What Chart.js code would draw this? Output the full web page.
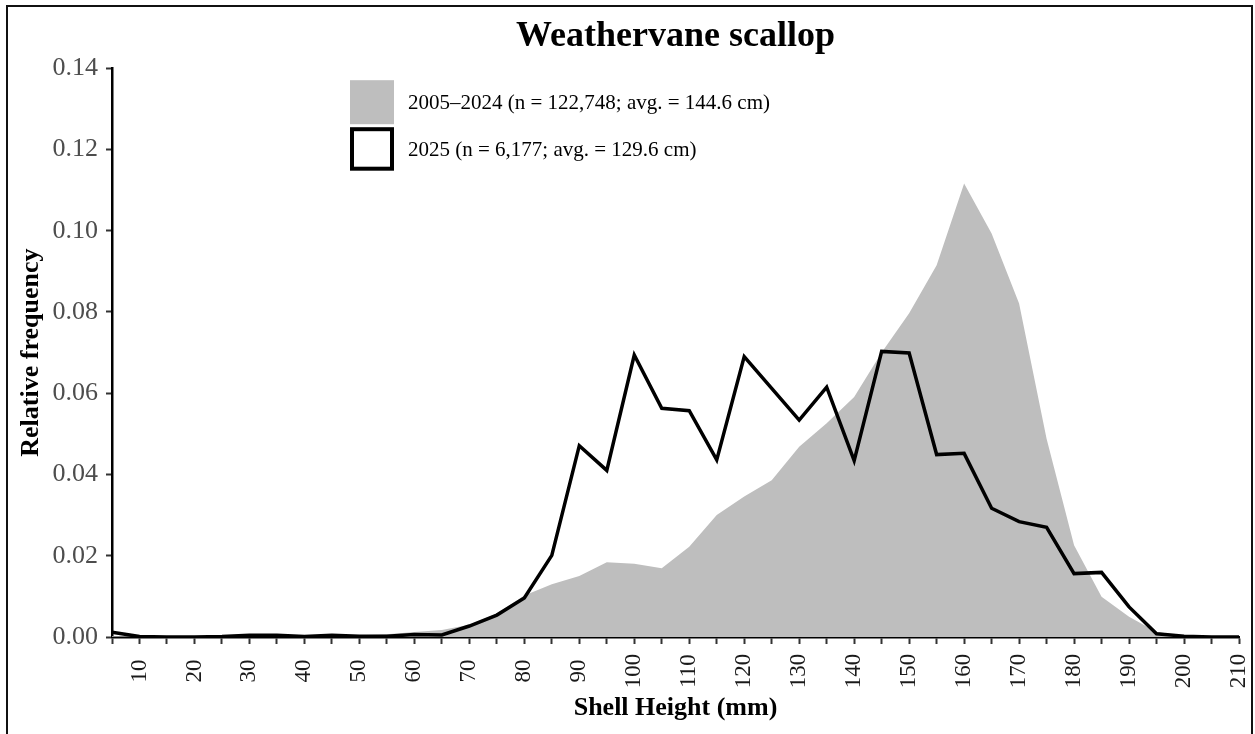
<!DOCTYPE html>
<html>
<head>
<meta charset="utf-8">
<title>Weathervane scallop</title>
<script src="https://cdn.jsdelivr.net/npm/chart.js@4/dist/chart.umd.min.js"></script>
<style>
  html, body { margin: 0; padding: 0; background: #fff; }
  #wrap { position: relative; width: 1255px; height: 734px; overflow: hidden; }
  #frame { position: absolute; left: 6px; top: 5px; width: 1243px; height: 780px; border: 2px solid #111; pointer-events: none; }
  canvas { position: absolute; left: 0; top: 0; }
</style>
</head>
<body>
<div id="wrap">
  <canvas id="chart" width="1255" height="734"></canvas>
  <div id="frame"></div>
</div>
<script>
document.addEventListener( "DOMContentLoaded", () => {

   // Data
   // ----------------------------------------------
   const shellHeights = [ 5, 10, 15, 20, 25, 30, 35, 40, 45, 50, 55, 60, 65, 70, 75, 80, 85, 90, 95, 100,
                          105, 110, 115, 120, 125, 130, 135, 140, 145, 150, 155, 160, 165, 170, 175, 180,
                          185, 190, 195, 200, 205, 210 ];

   // 2005–2024 relative frequency
   const freqHistoric = [ 0.0002, 0.0001, 0.0001, 0.0001, 0.0001, 0.0002, 0.0002, 0.0002, 0.0003, 0.0004,
                          0.0007, 0.0012, 0.0017, 0.0030, 0.0058, 0.0102, 0.0130, 0.0150, 0.0184, 0.0180,
                          0.0169, 0.0222, 0.0300, 0.0346, 0.0386, 0.0468, 0.0526, 0.0591, 0.0700, 0.0797,
                          0.0915, 0.1116, 0.0993, 0.0821, 0.0488, 0.0226, 0.0099, 0.0050, 0.0012, 0.0003,
                          0.0001, 0.0000 ];

   // 2025 relative frequency
   const freq2025 = [ 0.0012, 0.0001, 0.0000, 0.0000, 0.0001, 0.0004, 0.0004, 0.0001, 0.0004, 0.0002,
                      0.0002, 0.0006, 0.0005, 0.0027, 0.0054, 0.0096, 0.0201, 0.0471, 0.0410, 0.0694,
                      0.0563, 0.0557, 0.0436, 0.0690, 0.0612, 0.0534, 0.0615, 0.0434, 0.0703, 0.0699,
                      0.0449, 0.0452, 0.0317, 0.0284, 0.0270, 0.0156, 0.0159, 0.0074, 0.0008, 0.0002,
                      0.0000, 0.0000 ];

   const xTickLabels = [ 10, 20, 30, 40, 50, 60, 70, 80, 90, 100, 110, 120, 130, 140, 150, 160, 170, 180, 190, 200, 210 ];
   const yTicks      = [ 0, 0.02, 0.04, 0.06, 0.08, 0.10, 0.12, 0.14 ];

   const legendItems = [
      { text: '2005–2024 (n = 122,748; avg. = 144.6 cm)', kind: 'fill' },
      { text: '2025 (n = 6,177; avg. = 129.6 cm)', kind: 'line' }
   ];

   const serif     = "'Liberation Serif', 'Times New Roman', serif";
   const grayFill  = '#bebebe';


   // Rotated x labels (centred on tick) + legend inside the panel
   // ----------------------------------------------
   const overlay = {
      id: 'overlay',
      afterDraw( chart ) {
         const { ctx, chartArea, scales: { x } } = chart;
         ctx.save();

         ctx.font = `23px ${serif}`;
         ctx.fillStyle = '#1a1a1a';
         ctx.textAlign = 'center';
         ctx.textBaseline = 'middle';
         x.ticks.forEach( t => {
            if ( !xTickLabels.includes( t.value ) ) return;
            ctx.save();
            ctx.translate( x.getPixelForValue( t.value ), chartArea.bottom + 34 );
            ctx.rotate( -Math.PI / 2 );
            ctx.fillText( String( t.value ), 0, 0 );
            ctx.restore();
         });

         const lx = chartArea.left + 238;
         const ly = chartArea.top + 12;
         ctx.font = `21px ${serif}`;
         ctx.textAlign = 'left';
         ctx.textBaseline = 'alphabetic';
         legendItems.forEach( ( item, i ) => {
            const top = ly + i * 47;
            if ( item.kind === 'fill' ) {
               ctx.fillStyle = grayFill;
               ctx.fillRect( lx, top, 44, 44 );
            } else {
               ctx.strokeStyle = '#000';
               ctx.lineWidth = 4;
               ctx.strokeRect( lx + 2, top + 2, 40, 39.5 );
            }
            ctx.fillStyle = '#000';
            ctx.fillText( item.text, lx + 58, top + 29 );
         });

         ctx.restore();
      }
   };


   // Chart
   // ----------------------------------------------
   new Chart( document.getElementById('chart'), {
      type: 'line',
      data: {
         datasets: [
            {
               label: '2025',
               data: shellHeights.map( ( h, i ) => ({ x: h, y: freq2025[i] }) ),
               borderColor: '#000',
               borderWidth: 3.5,
               pointRadius: 0,
               fill: false,
               tension: 0,
               order: 1
            },
            {
               label: '2005–2024',
               data: shellHeights.map( ( h, i ) => ({ x: h, y: freqHistoric[i] }) ),
               borderColor: grayFill,
               backgroundColor: grayFill,
               borderWidth: 0,
               pointRadius: 0,
               fill: 'origin',
               tension: 0,
               order: 2
            }
         ]
      },
      plugins: [ overlay ],
      options: {
         responsive: false,
         animation: false,
         layout: { padding: { left: 0, right: 16, top: 0, bottom: 0 } },
         plugins: {
            legend: { display: false },
            tooltip: { enabled: false },
            title: {
               display: true,
               text: 'Weathervane scallop',
               fullSize: false,
               color: '#000',
               font: { family: serif, size: 36, weight: 'bold' },
               padding: { top: 15, bottom: 10 }
            }
         },
         scales: {
            x: {
               type: 'linear',
               min: 5,
               max: 210,
               afterFit: s => { s.height = 97; },
               afterBuildTicks: s => { s.ticks = shellHeights.map( v => ({ value: v }) ); },
               border: { color: '#000', width: 2.5 },
               grid: { drawOnChartArea: false, tickLength: 7, tickWidth: 2, tickColor: '#333' },
               // labels are drawn by the overlay plugin, centred on each tick
               ticks: { display: false },
               title: {
                  display: true,
                  text: 'Shell Height (mm)',
                  color: '#000',
                  font: { family: serif, size: 26, weight: 'bold' },
                  padding: { top: 0, bottom: 10 }
               }
            },
            y: {
               min: 0,
               max: 0.14,
               afterFit: s => { s.width = 112; },
               afterBuildTicks: s => { s.ticks = yTicks.map( v => ({ value: v }) ); },
               border: { color: '#000', width: 2.5 },
               grid: { drawOnChartArea: false, tickLength: 6, tickWidth: 2, tickColor: '#333' },
               ticks: {
                  color: '#4d4d4d',
                  padding: 8,
                  font: { family: serif, size: 26 },
                  callback: v => v.toFixed( 2 )
               },
               title: {
                  display: true,
                  text: 'Relative frequency',
                  color: '#000',
                  font: { family: serif, size: 26, weight: 'bold' },
                  padding: { top: 16, bottom: 0 }
               }
            }
         }
      }
   });
});
</script>
</body>
</html>
